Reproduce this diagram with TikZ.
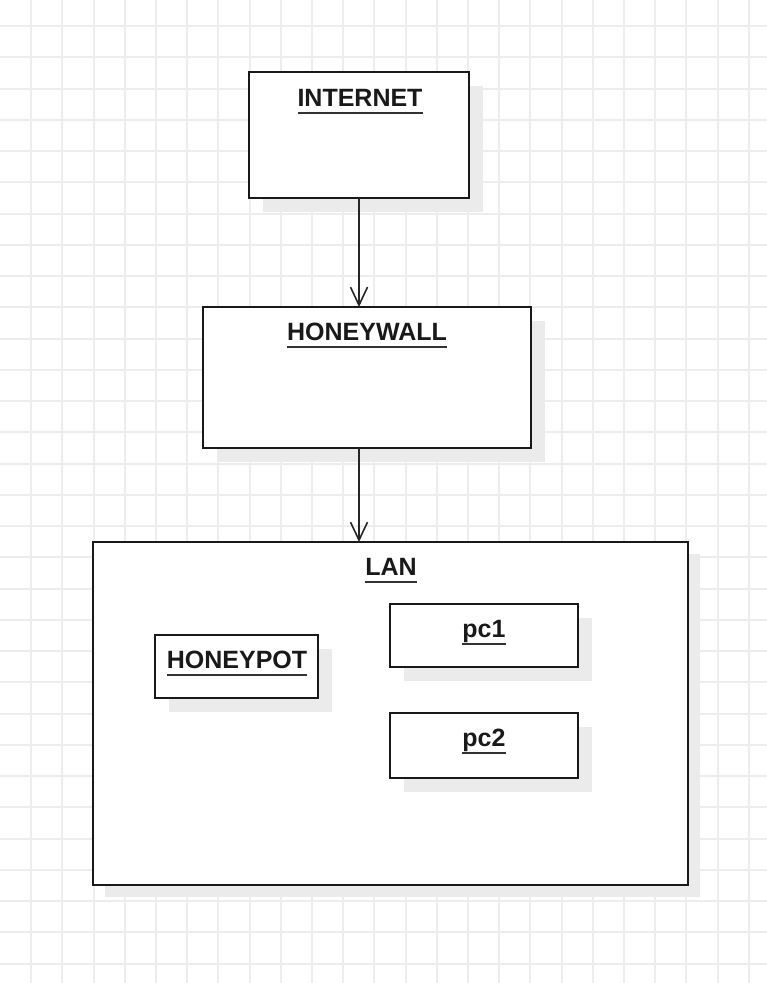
\documentclass[tikz,border=0pt]{standalone}
\usepackage{fontspec}
\setmainfont{Liberation Sans}
\usetikzlibrary{arrows.meta}
\newcommand\ulbox[1]{\setbox0=\hbox{#1}\rlap{\copy0}{\color{black!80}\rule[-7.5pt]{\wd0}{2pt}}}
\tikzset{
  box/.style={draw=black!90, line width=2.4pt, fill=white},
  shadowbox/.style={fill=black!8, draw=none},
  lbl/.style={anchor=base, inner sep=0pt, font=\fontsize{25}{29}\selectfont\bfseries, text=black!90},
  conn/.style={draw=black!85, line width=1.6pt, -{Straight Barb[length=18pt,width=17pt,line width=1.6pt]}},
  gridline/.style={draw=black!7, line width=2pt}
}
\begin{document}
\begin{tikzpicture}[x=1pt,y=-1pt]
\useasboundingbox (0,0) rectangle (767,983);
\fill[white] (0,0) rectangle (767,983);
% grid
\foreach \k in {1,...,24} \draw[gridline] ({31.2*\k},0) -- ({31.2*\k},983);
\foreach \k in {0,...,30} \draw[gridline] (0,{26+31.25*\k}) -- (767,{26+31.25*\k});
% shadows
\fill[shadowbox] (263,86) rectangle (483,212);
\fill[shadowbox] (217,321) rectangle (545,462);
\fill[shadowbox] (105,554) rectangle (700,897);
% boxes
\draw[box] (249,72) rectangle (469,198);
\coordinate (internetB) at (359,198);
\draw[box] (203,307) rectangle (531,448);
\coordinate (honeywallT) at (359,307);
\coordinate (honeywallB) at (359,448);
\draw[box] (93,542) rectangle (688,885);
\coordinate (lanT) at (359,542);
\fill[shadowbox] (169,649) rectangle (332,712);
\fill[shadowbox] (404,618) rectangle (592,681);
\fill[shadowbox] (404,727) rectangle (592,792);
\draw[box] (155,635) rectangle (318,698);
\draw[box] (390,604) rectangle (578,667);
\draw[box] (390,713) rectangle (578,778);
% labels
\node[lbl] (internet) at (360,106) {\ulbox{INTERNET}};
\node[lbl] (honeywall) at (367,340) {\ulbox{HONEYWALL}};
\node[lbl] (lan) at (391,575) {\ulbox{LAN}};
\node[lbl] (honeypot) at (237,668) {\ulbox{HONEYPOT}};
\node[lbl] (pc1) at (484,637) {\ulbox{pc1}};
\node[lbl] (pc2) at (484,746) {\ulbox{pc2}};
% connectors
\draw[conn] (internetB) -- (honeywallT);
\draw[conn] (honeywallB) -- (lanT);
\end{tikzpicture}
\end{document}
